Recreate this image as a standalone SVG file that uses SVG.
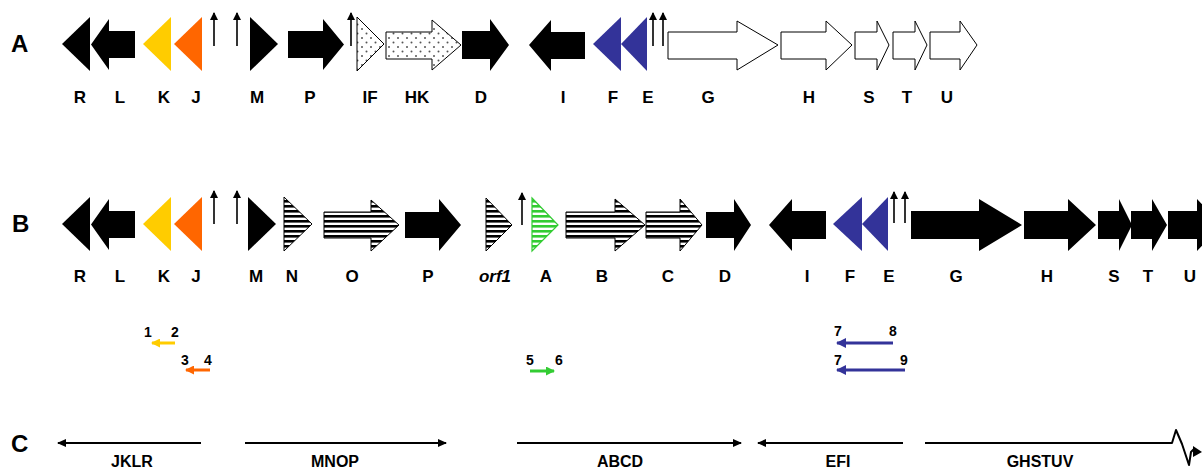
<svg xmlns="http://www.w3.org/2000/svg" width="1202" height="470" viewBox="0 0 1202 470">
  <defs>
    <pattern id="stripes" width="8" height="5" patternUnits="userSpaceOnUse">
      <rect width="8" height="5" fill="#fff"/>
      <rect width="8" height="2.6" fill="#000"/>
    </pattern>
    <pattern id="stripesGreen" width="8" height="5" patternUnits="userSpaceOnUse">
      <rect width="8" height="5" fill="#fff"/>
      <rect width="8" height="2.6" fill="#33CC33"/>
    </pattern>
    <pattern id="dots" width="9" height="9" patternUnits="userSpaceOnUse">
      <rect width="9" height="9" fill="#fff"/>
      <circle cx="2" cy="2" r="1" fill="#555"/>
      <circle cx="6.5" cy="6.5" r="1" fill="#555"/>
    </pattern>
    <marker id="headBlack" markerWidth="8" markerHeight="8" refX="7" refY="4" orient="auto" markerUnits="userSpaceOnUse">
      <path d="M0,0 L8,4 L0,8 Z" fill="#000"/>
    </marker>
    <marker id="headSmall" markerWidth="9" markerHeight="8" refX="8" refY="4" orient="auto" markerUnits="userSpaceOnUse">
      <path d="M0,0 L9,4 L0,8 Z" fill="#000"/>
    </marker>
    <marker id="headYellow" markerWidth="9" markerHeight="9" refX="8" refY="4.5" orient="auto" markerUnits="userSpaceOnUse">
      <path d="M0,0 L9,4.5 L0,9 Z" fill="#FFCC00"/>
    </marker>
    <marker id="headOrange" markerWidth="9" markerHeight="9" refX="8" refY="4.5" orient="auto" markerUnits="userSpaceOnUse">
      <path d="M0,0 L9,4.5 L0,9 Z" fill="#FF6600"/>
    </marker>
    <marker id="headGreen" markerWidth="9" markerHeight="9" refX="8" refY="4.5" orient="auto" markerUnits="userSpaceOnUse">
      <path d="M0,0 L9,4.5 L0,9 Z" fill="#33CC33"/>
    </marker>
    <marker id="headBlue" markerWidth="10" markerHeight="10" refX="9" refY="5" orient="auto" markerUnits="userSpaceOnUse">
      <path d="M0,0 L10,5 L0,10 Z" fill="#333399"/>
    </marker>
  </defs>
  <style>
    text { font-family: "Liberation Sans", Arial, sans-serif; font-weight: bold; fill: #000; }
    .row { font-size: 24px; }
    .lbl { font-size: 17px; text-anchor: middle; }
    .tlbl { font-size: 16px; text-anchor: middle; }
    .num { font-size: 14px; text-anchor: middle; }
    .solid { fill: #000; }
    .yellow { fill: #FFCC00; }
    .orange { fill: #FF6600; }
    .blue { fill: #333399; }
    .open { fill: #fff; stroke: #000; stroke-width: 1; }
    .dotted { fill: url(#dots); stroke: #000; stroke-width: 1; }
    .striped { fill: url(#stripes); stroke: #000; stroke-width: 1; }
    .greenStriped { fill: url(#stripesGreen); stroke: #33CC33; stroke-width: 1.2; }
    .prom { stroke: #000; stroke-width: 1.6; fill: none; marker-end: url(#headBlack); }
    .span { stroke: #000; stroke-width: 2; fill: none; marker-end: url(#headSmall); }
  </style>

  <rect width="1202" height="470" fill="#fff"/>

  <!-- Row labels -->
  <text class="row" x="11" y="52">A</text>
  <text class="row" x="12" y="232">B</text>
  <text class="row" x="11" y="452">C</text>

  <!-- Cluster A -->
  <g id="clusterA">
    <g id="A-R"><polygon class="solid" points="62,44 90,17 90,71"/><text class="lbl" x="80" y="103">R</text></g>
    <g id="A-L"><polygon class="solid" points="91,44.5 109,19 109,31 135,31 135,58 109,58 109,70"/><text class="lbl" x="120" y="103">L</text></g>
    <g id="A-K"><polygon class="yellow" points="143,44 171,17 171,71"/><text class="lbl" x="164" y="103">K</text></g>
    <g id="A-J"><polygon class="orange" points="174,44 202,17 202,71"/><text class="lbl" x="196" y="103">J</text></g>
    <g id="A-M"><polygon class="solid" points="250,17 278,44 250,71"/><text class="lbl" x="257" y="103">M</text></g>
    <g id="A-P"><polygon class="solid" points="288,31 323,31 323,19 344,44.5 323,70 323,58 288,58"/><text class="lbl" x="310" y="103">P</text></g>
    <g id="A-IF"><polygon class="dotted" points="357,17 384,44 357,71"/><text class="lbl" x="370" y="103">IF</text></g>
    <g id="A-HK"><polygon class="dotted" points="386,32 432,32 432,20 461,45 432,70 432,59 386,59"/><text class="lbl" x="417" y="103">HK</text></g>
    <g id="A-D"><polygon class="solid" points="462,31 490,31 490,19 509,45 490,71 490,59 462,59"/><text class="lbl" x="481" y="103">D</text></g>
    <g id="A-I"><polygon class="solid" points="529,45 551,20 551,32 585,32 585,59 551,59 551,71"/><text class="lbl" x="563" y="103">I</text></g>
    <g id="A-F"><polygon class="blue" points="593,44 621,17 621,71"/><text class="lbl" x="613" y="103">F</text></g>
    <g id="A-E"><polygon class="blue" points="621,44 647,17 647,71"/><text class="lbl" x="648" y="103">E</text></g>
    <g id="A-G"><polygon class="open" points="668,32 737,32 737,21 778,45 737,70 737,59 668,59"/><text class="lbl" x="708" y="103">G</text></g>
    <g id="A-H"><polygon class="open" points="781,32 826,32 826,21 852,45 826,70 826,59 781,59"/><text class="lbl" x="809" y="103">H</text></g>
    <g id="A-S"><polygon class="open" points="855,32 877,32 877,21 889,45 877,70 877,59 855,59"/><text class="lbl" x="869" y="103">S</text></g>
    <g id="A-T"><polygon class="open" points="893,32 915,32 915,21 927,45 915,70 915,59 893,59"/><text class="lbl" x="907" y="103">T</text></g>
    <g id="A-U"><polygon class="open" points="930,32 960,32 960,21 977,45 960,70 960,59 930,59"/><text class="lbl" x="947" y="103">U</text></g>
  </g>

  <!-- Cluster B -->
  <g id="clusterB">
    <g id="B-R"><polygon class="solid" points="62,224 90,197 90,251"/><text class="lbl" x="80" y="282">R</text></g>
    <g id="B-L"><polygon class="solid" points="91,224.5 109,199 109,211 135,211 135,238 109,238 109,250"/><text class="lbl" x="120" y="282">L</text></g>
    <g id="B-K"><polygon class="yellow" points="143,224 171,197 171,251"/><text class="lbl" x="164" y="282">K</text></g>
    <g id="B-J"><polygon class="orange" points="174,224 202,197 202,251"/><text class="lbl" x="196" y="282">J</text></g>
    <g id="B-M"><polygon class="solid" points="248,197 276,224 248,251"/><text class="lbl" x="256" y="282">M</text></g>
    <g id="B-N"><polygon class="striped" points="284,197 312,224 284,251"/><text class="lbl" x="292" y="282">N</text></g>
    <g id="B-O"><polygon class="striped" points="324,212 371,212 371,200 399,225 371,251 371,238 324,238"/><text class="lbl" x="352" y="282">O</text></g>
    <g id="B-P"><polygon class="solid" points="405,212 439,212 439,199 461,225 439,251 439,238 405,238"/><text class="lbl" x="428" y="282">P</text></g>
    <g id="B-orf1"><polygon class="striped" points="486,198 512,225 486,251"/><text class="lbl" x="495" y="282" font-style="italic">orf1</text></g>
    <g id="B-A"><polygon class="greenStriped" points="532,198 558,225 532,251"/><text class="lbl" x="546" y="282">A</text></g>
    <g id="B-B"><polygon class="striped" points="566,212 615,212 615,199 645,225 615,251 615,238 566,238"/><text class="lbl" x="602" y="282">B</text></g>
    <g id="B-C"><polygon class="striped" points="646,212 680,212 680,199 702,225 680,251 680,238 646,238"/><text class="lbl" x="668" y="282">C</text></g>
    <g id="B-D"><polygon class="solid" points="706,212 734,212 734,199 751,225 734,251 734,238 706,238"/><text class="lbl" x="725" y="282">D</text></g>
    <g id="B-I"><polygon class="solid" points="769,225 792,199 792,211 826,211 826,239 792,239 792,251"/><text class="lbl" x="807" y="282">I</text></g>
    <g id="B-F"><polygon class="blue" points="833,224 862,197 862,251"/><text class="lbl" x="850" y="282">F</text></g>
    <g id="B-E"><polygon class="blue" points="862,224 888,197 888,251"/><text class="lbl" x="889" y="282">E</text></g>
    <g id="B-G"><polygon class="solid" points="911,211 979,211 979,199 1022,225 979,251 979,239 911,239"/><text class="lbl" x="956" y="282">G</text></g>
    <g id="B-H"><polygon class="solid" points="1024,211 1068,211 1068,199 1096,225 1068,251 1068,239 1024,239"/><text class="lbl" x="1047" y="282">H</text></g>
    <g id="B-S"><polygon class="solid" points="1098,211 1119,211 1119,199 1132,225 1119,251 1119,239 1098,239"/><text class="lbl" x="1114" y="282">S</text></g>
    <g id="B-T"><polygon class="solid" points="1131,211 1152,211 1152,199 1167,225 1152,251 1152,239 1131,239"/><text class="lbl" x="1148" y="282">T</text></g>
    <g id="B-U"><polygon class="solid" points="1168,211 1197,211 1197,199 1222,225 1197,251 1197,239 1168,239"/><text class="lbl" x="1190" y="282">U</text></g>
  </g>

  <!-- Promoter arrows -->
  <g id="connectors">
    <line class="prom" x1="214" y1="46" x2="214" y2="13"/>
    <line class="prom" x1="237" y1="46" x2="237" y2="13"/>
    <line class="prom" x1="351" y1="46" x2="351" y2="13"/>
    <line class="prom" x1="653" y1="46" x2="653" y2="13"/>
    <line class="prom" x1="663" y1="46" x2="663" y2="13"/>
    <line class="prom" x1="214" y1="224" x2="214" y2="191"/>
    <line class="prom" x1="237" y1="224" x2="237" y2="191"/>
    <line class="prom" x1="522" y1="225" x2="522" y2="193"/>
    <line class="prom" x1="894" y1="223" x2="894" y2="192"/>
    <line class="prom" x1="905" y1="223" x2="905" y2="192"/>
  </g>

  <!-- Primer pairs -->
  <g id="primers">
    <g id="primer-1-2">
      <text class="num" x="148" y="337">1</text><text class="num" x="175" y="337">2</text>
      <line x1="175" y1="343" x2="152" y2="343" stroke="#FFCC00" stroke-width="3" marker-end="url(#headYellow)"/>
    </g>
    <g id="primer-3-4">
      <text class="num" x="185" y="365">3</text><text class="num" x="208" y="365">4</text>
      <line x1="210" y1="370" x2="186" y2="370" stroke="#FF6600" stroke-width="3" marker-end="url(#headOrange)"/>
    </g>
    <g id="primer-5-6">
      <text class="num" x="530" y="365">5</text><text class="num" x="559" y="365">6</text>
      <line x1="530" y1="371" x2="554" y2="371" stroke="#33CC33" stroke-width="3" marker-end="url(#headGreen)"/>
    </g>
    <g id="primer-7-8">
      <text class="num" x="838" y="336">7</text><text class="num" x="893" y="336">8</text>
      <line x1="893" y1="343" x2="837" y2="343" stroke="#333399" stroke-width="3" marker-end="url(#headBlue)"/>
    </g>
    <g id="primer-7-9">
      <text class="num" x="838" y="365">7</text><text class="num" x="904" y="365">9</text>
      <line x1="905" y1="370" x2="837" y2="370" stroke="#333399" stroke-width="3" marker-end="url(#headBlue)"/>
    </g>
  </g>

  <!-- Transcripts -->
  <g id="transcripts">
    <g id="t-JKLR"><line class="span" x1="201" y1="443" x2="58" y2="443"/><text class="tlbl" x="132" y="467">JKLR</text></g>
    <g id="t-MNOP"><line class="span" x1="245" y1="443" x2="446" y2="443"/><text class="tlbl" x="335" y="467">MNOP</text></g>
    <g id="t-ABCD"><line class="span" x1="517" y1="443" x2="741" y2="443"/><text class="tlbl" x="620" y="467">ABCD</text></g>
    <g id="t-EFI"><line class="span" x1="903" y1="443" x2="758" y2="443"/><text class="tlbl" x="838" y="467">EFI</text></g>
    <g id="t-GHSTUV">
      <polyline points="925,443 1172,443 1176,430 1182,444 1189,465 1191,452 1194,449" fill="none" stroke="#000" stroke-width="2" stroke-linejoin="round"/>
      <polygon points="1193,446 1202,452 1193,457" fill="#000"/>
      <text class="tlbl" x="1040" y="467">GHSTUV</text>
    </g>
  </g>
</svg>
